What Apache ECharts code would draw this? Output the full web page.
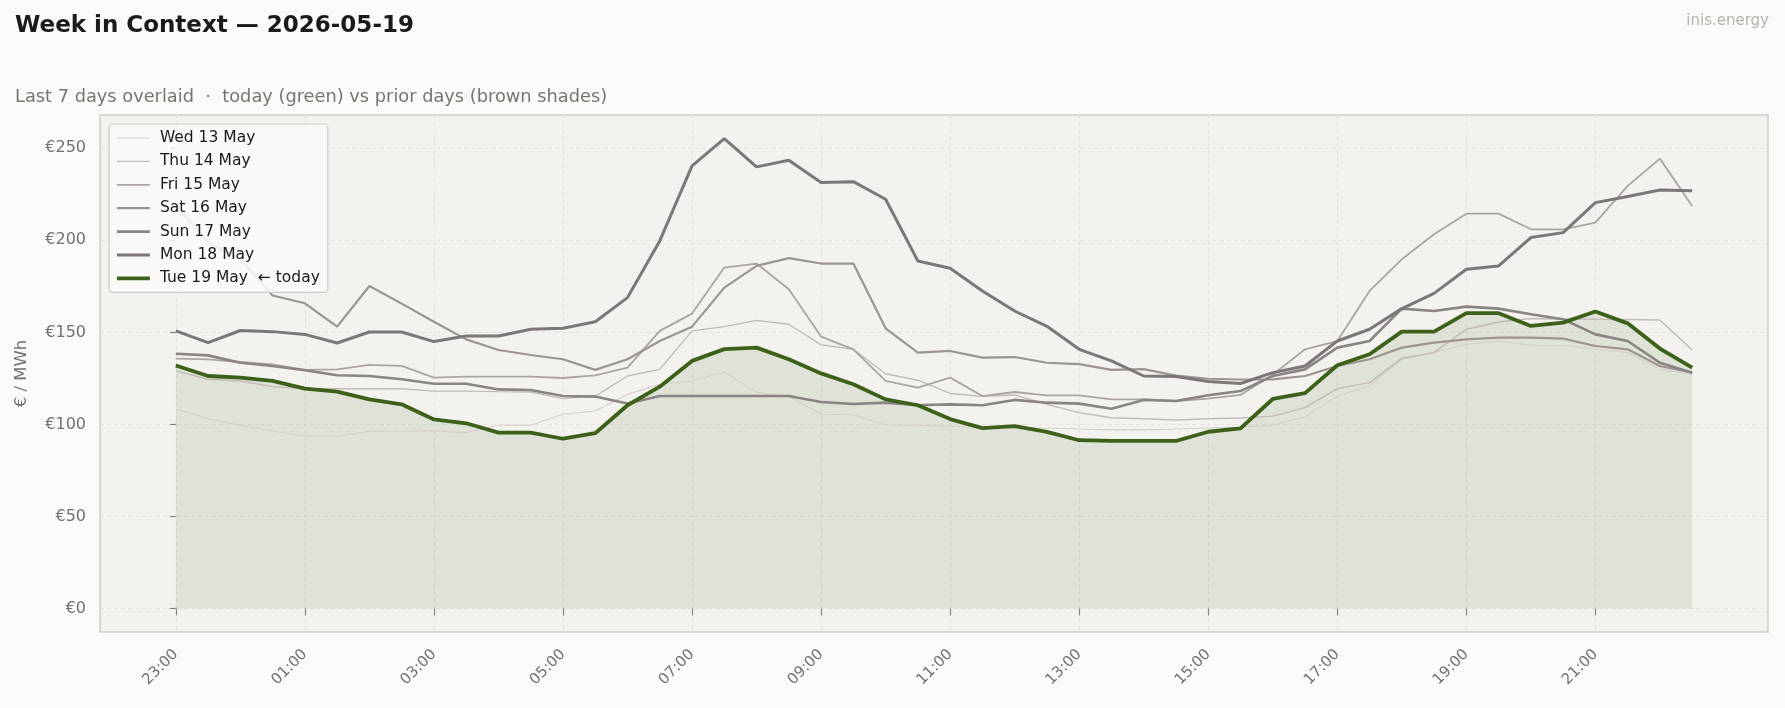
<!DOCTYPE html>
<html>
<head>
<meta charset="utf-8">
<title>Week in Context</title>
<script src="https://cdn.jsdelivr.net/npm/echarts@6/dist/echarts.min.js"></script>
<style>
  html, body { margin: 0; padding: 0; background: #fafaf8; }
  #chart { width: 1785px; height: 708px; }
</style>
</head>
<body>
<div id="chart"></div>
<script>
// half-hour slots, 23:00 of the previous day to 22:30
const times = ['23:00','23:30','00:00','00:30','01:00','01:30','02:00','02:30','03:00','03:30','04:00','04:30',
  '05:00','05:30','06:00','06:30','07:00','07:30','08:00','08:30','09:00','09:30','10:00','10:30',
  '11:00','11:30','12:00','12:30','13:00','13:30','14:00','14:30','15:00','15:30','16:00','16:30',
  '17:00','17:30','18:00','18:30','19:00','19:30','20:00','20:30','21:00','21:30','22:00','22:30'];
const tickIdx = [0, 4, 8, 12, 16, 20, 24, 28, 32, 36, 40, 44];
const yTicks = [0, 50, 100, 150, 200, 250];

const dayNames = ['Wed 13 May', 'Thu 14 May', 'Fri 15 May', 'Sat 16 May', 'Sun 17 May', 'Mon 18 May', 'Tue 19 May  \u2190 today'];

const wed13 = [108.5, 103.1, 99.5, 96.4, 93.7, 93.6, 96.3, 96.3, 96.6, 95.5, 99.5, 99.5, 105.5, 107.3, 116.3, 121.8, 123.6, 128.5,
  117.4, 115.4, 105.5, 105.2, 99.7, 99.5, 99, 98.5, 98, 98, 97.5, 97, 97, 97.5, 98, 98.5, 99.5, 104.2,
  115.4, 121, 135.4, 139, 143.5, 145.3, 143, 143, 140.8, 139, 129.9, 127.2];
const thu14 = [129, 124.5, 123.6, 120.5, 119.4, 119.4, 119.4, 119.4, 118.1, 118.1, 117.8, 117.6, 114, 115.4, 126.3, 129.9, 150.8, 153.1,
  156.5, 154.4, 143.2, 140.8, 127.5, 124, 116.8, 115.2, 116, 110.9, 106.4, 103.6, 103.1, 102.4, 103.1, 103.5, 104.5, 109.1,
  119.4, 122.7, 136, 139, 151.7, 155.6, 157.5, 157.3, 157.1, 157, 156.7, 140.4];
const fri15 = [135.7, 135.3, 133.9, 132.6, 129.6, 129.9, 132.3, 131.8, 125.4, 125.9, 125.9, 125.9, 125.2, 126.6, 130.8, 150.8, 160.2, 185.2,
  187.4, 173.4, 147.7, 140.8, 123.6, 120, 125.4, 115.4, 117.6, 115.8, 115.8, 113.6, 113.6, 112.7, 114, 116, 127, 140.8,
  145.3, 172.5, 189.7, 203.3, 214.5, 214.5, 206, 206, 209.6, 229.6, 244.4, 218.7];
const sat16 = [219, 199, 190, 170, 165.8, 153.1, 175.2, 165.6, 155.8, 146.2, 140.4, 137.7, 135.4, 129.6, 135.4, 145.3, 153.1, 174.3,
  186.1, 190.3, 187.4, 187.4, 152.2, 139, 139.9, 136.3, 136.6, 133.5, 132.7, 129.6, 130, 126.5, 124.8, 124.4, 124.5, 126.3,
  131.7, 135.4, 141.7, 144.4, 146.2, 147.1, 147.1, 146.6, 142.6, 140.8, 131.7, 128.1];
const sun17 = [138.4, 137.5, 133.5, 131.7, 129.4, 126.7, 126.3, 124.5, 122.1, 122.1, 119, 118.7, 115.4, 115.1, 111.4, 115.4, 115.4, 115.4,
  115.4, 115.4, 112.2, 111.1, 111.8, 110.4, 110.9, 110.4, 113.3, 111.8, 111.3, 108.5, 113.3, 112.7, 115.8, 118.1, 126.3, 129.9,
  141.7, 145.3, 162.9, 161.6, 164, 162.9, 159.8, 157.1, 148.9, 145.3, 133.5, 128.1];
const mon18 = [150.8, 144.4, 151, 150.4, 148.9, 144.2, 150.2, 150.2, 145, 148, 148, 151.7, 152.2, 155.8, 168.9, 199.7, 240.5, 255.3,
  239.9, 243.5, 231.4, 231.9, 222.3, 188.8, 184.8, 172.5, 161.6, 153.3, 140.8, 134.5, 126.3, 126, 123.3, 122.2, 128.1, 131.7,
  145.3, 151.7, 162.9, 171.2, 184.3, 186.1, 201.5, 204.2, 220.5, 223.8, 227.4, 226.9];
const tue19 = [132, 126.3, 125.4, 123.6, 119.4, 117.8, 113.6, 110.9, 102.7, 100.6, 95.5, 95.5, 92.2, 95.2, 110.4, 120.5, 134.5, 140.9,
  141.7, 135.4, 127.7, 121.8, 113.6, 110.4, 102.9, 98, 99.1, 95.9, 91.4, 91, 91, 91, 96, 97.8, 113.8, 117,
  132.1, 138.1, 150.4, 150.4, 160.4, 160.4, 153.5, 155.3, 161.3, 154.9, 141.2, 130.8];

const priorDays = [wed13, thu14, fri15, sat16, sun17, mon18];
const shades = ['#d4cfca', '#c2bcb7', '#aca4a0', '#9c9592', '#8a8482', '#7d7877'];
const widths = [1.1, 1.4, 1.8, 2.2, 2.6, 3.0];
const green = '#3b6218';
const font = 'DejaVu Sans';

function toPts(vals) {
  return vals.map((v, i) => [i, v]);
}

const chart = echarts.init(document.getElementById('chart'));

const series = [];
// shaded area under today's curve, kept behind every line
series.push({
  name: 'fill',
  type: 'line',
  data: toPts(tue19),
  symbol: 'none',
  silent: true,
  lineStyle: { width: 0 },
  areaStyle: { color: 'rgba(58,94,28,0.15)' },
  z: 1
});
priorDays.forEach((vals, k) => {
  series.push({
    name: dayNames[k],
    type: 'line',
    data: toPts(vals),
    symbol: 'none',
    lineStyle: { color: shades[k], width: widths[k] },
    itemStyle: { color: shades[k] },
    z: 2 + k
  });
});
series.push({
  name: dayNames[6],
  type: 'line',
  data: toPts(tue19),
  symbol: 'none',
  lineStyle: { color: green, width: 3.8 },
  itemStyle: { color: green },
  z: 10
});

const option = {
  animation: false,
  backgroundColor: '#fafaf8',
  textStyle: { fontFamily: font },
  title: [
    {
      text: 'Week in Context \u2014 2026-05-19',
      left: 15, top: 15, padding: 0,
      textStyle: { fontSize: 23, fontWeight: 'bold', color: '#1c1a18', fontFamily: font }
    },
    {
      text: 'Last 7 days overlaid  \u00b7  today (green) vs prior days (brown shades)',
      left: 15, top: 88, padding: 0,
      textStyle: { fontSize: 17.8, fontWeight: 'normal', color: '#7a746e', fontFamily: font }
    },
    {
      text: 'inis.energy',
      right: 16, top: 14, padding: 0,
      textStyle: { fontSize: 15, fontWeight: 'normal', color: '#b7b2ac', fontFamily: font }
    }
  ],
  legend: {
    data: dayNames,
    orient: 'vertical',
    left: 109, top: 124, z: 20,
    padding: [6, 8, 6, 6],
    itemWidth: 33, itemHeight: 14, itemGap: 7.4,
    itemStyle: { opacity: 0 },
    lineStyle: { width: 'inherit' },
    backgroundColor: 'rgba(250,250,248,0.86)',
    borderColor: '#d0ccc5', borderWidth: 1.2, borderRadius: 4,
    textStyle: { fontSize: 15.5, color: '#1a1a1a', fontFamily: font, padding: [0, 0, 0, 5] }
  },
  grid: {
    left: 100, right: 17, top: 115, bottom: 76,
    show: true, backgroundColor: '#f3f2ee', borderColor: '#d2cec6', borderWidth: 1.5
  },
  xAxis: {
    type: 'value',
    min: -2.35, max: 49.35,
    axisLine: { show: false },
    axisTick: { show: true, customValues: tickIdx, length: 7, lineStyle: { color: '#8a8580', width: 1.2 } },
    axisLabel: {
      customValues: tickIdx, rotate: 45, margin: 20,
      formatter: v => times[v], color: '#75706b', fontSize: 15, fontFamily: font
    },
    splitLine: { show: true, lineStyle: { type: [4, 3], color: '#e3e0da', width: 0.8 } }
  },
  yAxis: {
    type: 'value',
    min: -12.8, max: 268.1,
    name: '\u20ac / MWh', nameLocation: 'middle', nameGap: 70, nameRotate: 90,
    nameTextStyle: { color: '#75706b', fontSize: 16.5, fontFamily: font },
    axisLine: { show: false },
    axisTick: { show: true, customValues: yTicks, length: 6, lineStyle: { color: '#8a8580', width: 1.2 } },
    axisLabel: {
      customValues: yTicks, margin: 14,
      formatter: v => '\u20ac' + v, color: '#75706b', fontSize: 16, fontFamily: font
    },
    splitLine: { show: true, lineStyle: { type: [4, 3], color: '#e3e0da', width: 0.8 } }
  },
  series: series
};

chart.setOption(option);
</script>
</body>
</html>
